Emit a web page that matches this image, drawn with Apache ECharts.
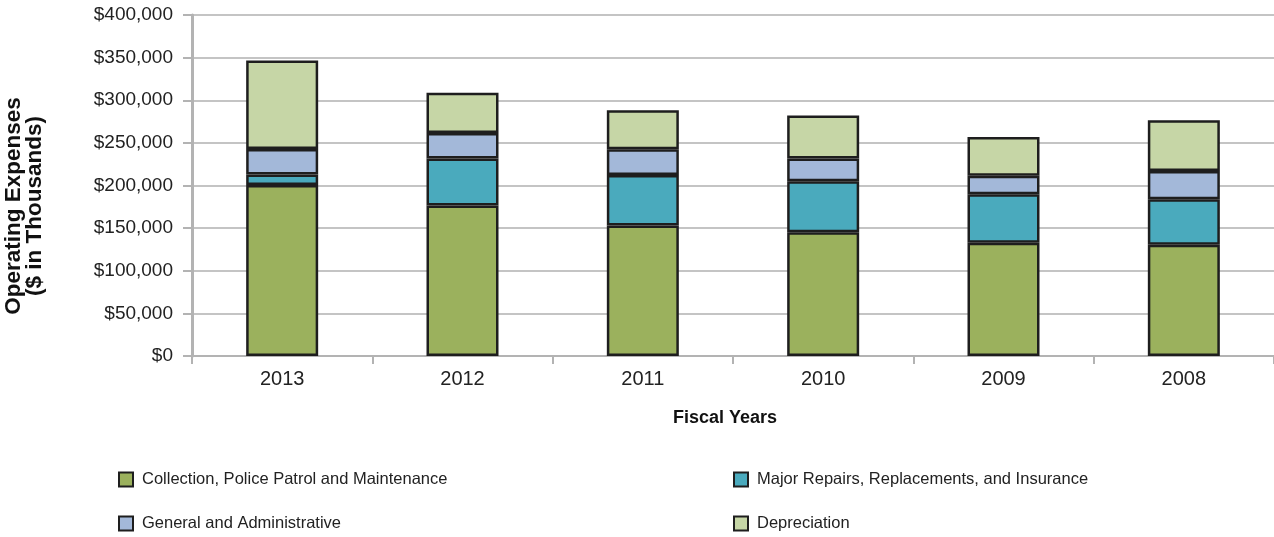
<!DOCTYPE html>
<html>
<head>
<meta charset="utf-8">
<script src="https://cdn.jsdelivr.net/npm/echarts@6/dist/echarts.min.js"></script>
<style>
  html, body { margin: 0; padding: 0; background: #fff; }
  #chart { width: 1274px; height: 537px; }
</style>
</head>
<body>
<div id="chart"></div>
<script>
// Fiscal years, most recent first
const years = ['2013', '2012', '2011', '2010', '2009', '2008'];

// Operating expenses by category ($ in thousands)
const collectionPatrolMaintenance = [200500, 176400, 153000, 145300, 132800, 130500];
const majorRepairsInsurance      = [12500, 55400, 59300, 59600, 56900, 53400];
const generalAdministrative      = [29700, 29900, 30300, 26900, 21700, 33100];
const depreciation               = [104000, 47200, 45600, 50200, 45600, 59500];

const seriesNames = [
  'Collection, Police Patrol and Maintenance',
  'Major Repairs, Replacements, and Insurance',
  'General and Administrative',
  'Depreciation'
];
const seriesColors = ['#9bb15d', '#4aaabd', '#a3b8d9', '#c6d6a6'];
const seriesData = [collectionPatrolMaintenance, majorRepairsInsurance, generalAdministrative, depreciation];

const FONT = '"Liberation Sans", Arial, sans-serif';

const chart = echarts.init(document.getElementById('chart'), null, { renderer: 'canvas' });

function legendFor(name, left, top) {
  return {
    data: [name],
    left: left,
    top: top,
    itemWidth: 14,
    itemHeight: 14,
    itemGap: 0,
    padding: 0,
    icon: 'rect',
    selectedMode: false,
    textStyle: { fontFamily: FONT, fontSize: 16.5, color: '#222', padding: [0, 0, 0, 4] }
  };
}

const option = {
  animation: false,
  backgroundColor: '#ffffff',
  grid: { left: 192, top: 15, width: 1088, height: 341, containLabel: false },
  legend: [
    legendFor(seriesNames[0], 118, 471),
    legendFor(seriesNames[1], 733, 471),
    legendFor(seriesNames[2], 118, 515),
    legendFor(seriesNames[3], 733, 515)
  ],
  xAxis: {
    type: 'category',
    data: years,
    axisLine: { lineStyle: { color: '#b3b3b3', width: 2 } },
    axisTick: { show: true, length: 8, lineStyle: { color: '#b3b3b3', width: 2 } },
    axisLabel: { fontFamily: FONT, fontSize: 20, color: '#222', margin: 13 }
  },
  yAxis: {
    type: 'value',
    min: 0,
    max: 400000,
    interval: 50000,
    axisLine: { show: true, lineStyle: { color: '#b3b3b3', width: 3 } },
    axisTick: { show: true, length: 9, lineStyle: { color: '#b3b3b3', width: 2 } },
    splitLine: { lineStyle: { color: '#c4c4c4', width: 2 } },
    axisLabel: {
      fontFamily: FONT, fontSize: 19, color: '#222', margin: 19,
      formatter: v => '$' + v.toLocaleString('en-US')
    }
  },
  series: seriesNames.map((name, i) => ({
    name: name,
    type: 'bar',
    stack: 'expenses',
    barWidth: 72,
    data: seriesData[i],
    itemStyle: { color: seriesColors[i], borderColor: '#1e1e1e', borderWidth: 2.5 }
  })),
  graphic: [
    {
      type: 'text',
      x: 24, y: 206,
      rotation: Math.PI / 2,
      style: {
        text: 'Operating Expenses\n($ in Thousands)',
        fontFamily: FONT, fontSize: 22.5, fontWeight: 'bold',
        lineHeight: 21, fill: '#111',
        align: 'center', verticalAlign: 'middle'
      }
    },
    {
      type: 'text',
      x: 725, y: 418,
      style: {
        text: 'Fiscal Years',
        fontFamily: FONT, fontSize: 18, fontWeight: 'bold', fill: '#111',
        align: 'center', verticalAlign: 'middle'
      }
    }
  ]
};

chart.setOption(option);
</script>
</body>
</html>
